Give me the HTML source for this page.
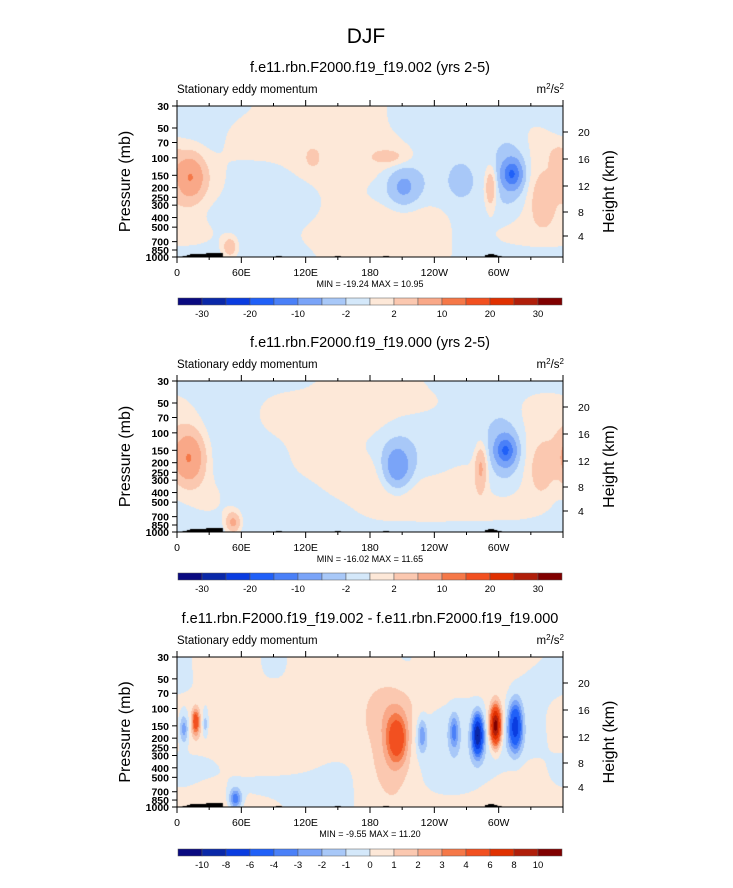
<!DOCTYPE html>
<html><head><meta charset="utf-8"><style>
body{margin:0;background:#fff;font-family:"Liberation Sans",sans-serif;}
#root{position:relative;width:733px;height:888px;overflow:hidden;}
canvas{position:absolute;}
svg{position:absolute;left:0;top:0;}
</style></head><body>
<div id="root">
<canvas id="c1" width="386" height="151" style="left:177px;top:106px"></canvas>
<canvas id="c2" width="386" height="151" style="left:177px;top:381px"></canvas>
<canvas id="c3" width="386" height="150" style="left:177px;top:657px"></canvas>
<svg id="svg" width="733" height="888"></svg>
</div>
<script>
const colors=["#0a0a80","#0a28a8","#0a3ce0","#2060f8","#4a80f8","#7aa4f8","#a8c8f8","#d4e8fa","#fde8d8","#fbc8b0","#f9a888","#f57848","#f25020","#e03000","#b01e0a","#800000"];
const levelsAB=[-30,-25,-20,-15,-10,-5,-2,0,2,5,10,15,20,25,30];
const labelsAB=["-30","","-20","","-10","","-2","","2","","10","","20","","30"];
const levelsC=[-10,-8,-6,-4,-3,-2,-1,0,1,2,3,4,6,8,10];
const labelsC=["-10","-8","-6","-4","-3","-2","-1","0","1","2","3","4","6","8","10"];
const pTicks=[30,50,70,100,150,200,250,300,400,500,700,850,1000];
const hTicks=[4,8,12,16,20];
const hOffsets=[130,106,80,53,26];
const lonTicks=[0,60,120,180,240,300];
const lonLabels=["0","60E","120E","180","120W","60W"];
const bg1=[
[-1,-1,-1, 1, 1, 1, 1,-1,-1,-1,-1,-1],
[-1,-1, 1, 1,-1, 1, 1,-1,-1,-1,-1, 1],
[ 1,-1, 1, 1, 1, 1, 1, 1,-1,-1,-1, 1],
[ 1, 1,-1,-1, 1, 1, 1,-1,-1,-1,-1, 1],
[ 1, 1,-1,-1,-1, 1,-1,-1,-1,-1,-1, 1],
[ 1,-1,-1,-1,-1, 1, 1, 1, 1,-1,-1, 1],
[ 1, 1,-1,-1, 1, 1, 1, 1, 1,-1, 1, 1],
[-1,-1,-1,-1,-1, 1, 1, 1, 1,-1,-1,-1]];
const bg2=[
[-1,-1,-1,-1,-1, 1,-1, 1,-1,-1,-1,-1],
[ 1,-1,-1, 1, 1, 1, 1, 1, 1,-1,-1, 1],
[ 1,-1,-1, 1, 1, 1, 1,-1,-1,-1,-1, 1],
[ 1,-1,-1,-1, 1, 1,-1,-1,-1,-1,-1, 1],
[ 1,-1,-1,-1, 1, 1, 1,-1,-1, 1,-1, 1],
[-1, 1,-1,-1,-1, 1, 1, 1, 1, 1,-1, 1],
[-1, 1,-1,-1,-1,-1, 1, 1, 1, 1, 1, 1],
[-1,-1,-1,-1,-1,-1,-1,-1,-1,-1,-1,-1]];
const bg3=[
[-1, 1, 1,-1, 1, 1, 1,-1, 1, 1, 1, 1],
[-1, 1, 1,-1, 1, 1, 1,-1, 1, 1, 1,-1],
[ 1,-1, 1, 1, 1, 1, 1, 1, 1,-1, 1,-1],
[ 1, 1, 1, 1,-1, 1, 1, 1,-1,-1, 1,-1],
[ 1, 1, 1, 1, 1, 1, 1,-1,-1,-1,-1,-1],
[-1,-1, 1, 1, 1,-1, 1, 1,-1,-1,-1, 1],
[-1, 1,-1,-1,-1,-1, 1, 1,-1,-1, 1, 1],
[ 1, 1, 1, 1,-1,-1, 1, 1, 1, 1, 1, 1]];
const p1Lon=[12,312,312,292,211,264,49,199,126,355,340];
const p1Z  =[0.47,0.45,0.45,0.54,0.54,0.5,0.94,0.34,0.34,0.34,0.62];
const p1Amp=[9,-12,-4,6,-5,-3.5,5,2.6,2.6,2.6,2.8];
const p1SL =[9,6,11,4,10,6,5,12,4,5,8];
const p1SZ =[0.1,0.06,0.15,0.1,0.09,0.06,0.05,0.04,0.04,0.05,0.12];
const p2Lon=[205,306,306,283,11,52,340];
const p2Z  =[0.57,0.46,0.46,0.57,0.51,0.94,0.6];
const p2Amp=[-8,-12,-4,6,10,7,2.8];
const p2SL =[9,6,11,4,10,5,8];
const p2SZ =[0.1,0.06,0.14,0.11,0.12,0.05,0.12];
const p3Lon=[280,296.6,315,258,205,200,228,17,6,54,26];
const p3Z  =[0.52,0.46,0.46,0.5,0.55,0.5,0.52,0.43,0.48,0.95,0.45];
const p3Amp=[-9.5,11,-7,-3,4.5,1.4,-2.5,5,-3,-4,-2];
const p3SL =[3.5,3.5,4.5,3,7,14,3,2.5,3,4,2];
const p3SZ =[0.09,0.09,0.11,0.08,0.11,0.25,0.08,0.06,0.07,0.05,0.06];
const topoLon=[8,12,15,20,25,30,35,40,95,150,195,290,293,296,300];
const topoH=[1,2,3,3,3,4,4,4,1,1,1,2,3,2,1];

const W=386;
function xOf(lon){return lon/360*W;}
function zOf(p){return Math.log(p/30)/Math.log(1000/30);}
function bgVal(bg,lon,z,s){
  let sw=0,sv=0;
  for(let r=0;r<8;r++){const dz=(z-r/7)*7/0.65;const ez=Math.exp(-0.5*dz*dz);
    for(let c=0;c<12;c++){let dl=lon-c*30;if(dl>180)dl-=360;if(dl<-180)dl+=360;
      const dx=dl/30/0.65;const w=ez*Math.exp(-0.5*dx*dx);sw+=w;sv+=w*bg[r][c];}}
  return s*sv/sw*1.5;
}
function field(lon,z,bg,s,L,Z,A,SL,SZ){
  let v=bgVal(bg,lon,z,s);
  for(let i=0;i<L.length;i++){
    let dl=lon-L[i]; if(dl>180)dl-=360; if(dl<-180)dl+=360;
    v+=A[i]*Math.exp(-0.5*((dl/SL[i])**2+((z-Z[i])/SZ[i])**2));
  }
  return v;
}
function cls(v,levels){let k=0;while(k<levels.length&&v>=levels[k])k++;return k;}
function draw(id,bg,s,L,Z,A,SL,SZ,levels){
  const c=document.getElementById(id),ctx=c.getContext('2d'),H=c.height;
  for(let y=0;y<H;y++)for(let x=0;x<W;x++){
    const v=field(x/W*360,y/(H-1),bg,s,L,Z,A,SL,SZ);
    ctx.fillStyle=colors[cls(v,levels)];ctx.fillRect(x,y,1,1);
  }
  ctx.fillStyle="#000";
  for(let i=0;i<topoLon.length;i++){ctx.fillRect(xOf(topoLon[i])-3,H-topoH[i],6,topoH[i]);}
}
draw('c1',bg1,1,p1Lon,p1Z,p1Amp,p1SL,p1SZ,levelsAB);
draw('c2',bg2,1,p2Lon,p2Z,p2Amp,p2SL,p2SZ,levelsAB);
draw('c3',bg3,0.5,p3Lon,p3Z,p3Amp,p3SL,p3SZ,levelsC);

const svg=document.getElementById('svg');const NS="http://www.w3.org/2000/svg";
function mk(tag,at,txt){const e=document.createElementNS(NS,tag);for(const k in at)e.setAttribute(k,at[k]);if(txt!==undefined)e.textContent=txt;svg.appendChild(e);return e;}
let t=mk('text',{x:366,y:43,'font-size':21,'text-anchor':'middle'},'DJF');


const panels=[
 {top:106,h:151,title:"f.e11.rbn.F2000.f19_f19.002 (yrs 2-5)",mm:"MIN = -19.24  MAX =  10.95",cb:298,lv:labelsAB},
 {top:381,h:151,title:"f.e11.rbn.F2000.f19_f19.000 (yrs 2-5)",mm:"MIN = -16.02  MAX =  11.65",cb:573,lv:labelsAB},
 {top:657,h:150,title:"f.e11.rbn.F2000.f19_f19.002 - f.e11.rbn.F2000.f19_f19.000",mm:"MIN =  -9.55  MAX =  11.20",cb:849,lv:labelsC}];
panels.forEach((P,pi)=>{
  const L=177,R=563,T=P.top,B=P.top+P.h;
  let e=mk('text',{x:370,y:T-34,'font-size':14.5,'text-anchor':'middle'},P.title);
  
  
  e=mk('text',{x:177,y:T-13,'font-size':11.5},'Stationary eddy momentum');
  
  
  e=mk('text',{x:564,y:T-13,'font-size':11.5,'text-anchor':'end'});
  e.innerHTML='m<tspan dy="-4" font-size="8">2</tspan><tspan dy="4">/s</tspan><tspan dy="-4" font-size="8">2</tspan>';
  
  
  e=mk('rect',{x:L,y:T,width:R-L,height:P.h,fill:'none',stroke:'#000','stroke-width':1});
  
  
  pTicks.forEach(p=>{const y=T+zOf(p)*P.h;
    mk('line',{x1:L-5,x2:L,y1:y,y2:y,stroke:'#000'});
    const tx=mk('text',{x:L-8,y:y+4,'font-size':10.5,'text-anchor':'end','font-weight':'bold'},String(p));
    
    });
  hTicks.forEach((h,i)=>{const y=T+hOffsets[i];
    mk('line',{x1:R,x2:R+5,y1:y,y2:y,stroke:'#000'});
    const tx=mk('text',{x:R+15,y:y+4,'font-size':10.5},String(h));
    
    });
  for(let lon=0;lon<=360;lon+=30){const x=L+xOf(lon),len=lon%60?3:6;
    mk('line',{x1:x,x2:x,y1:B,y2:B+len,stroke:'#000'});
    mk('line',{x1:x,x2:x,y1:T,y2:T-len,stroke:'#000'});}
  lonTicks.forEach((lon,i)=>{const tx=mk('text',{x:L+xOf(lon),y:B+19,'font-size':10.5,'text-anchor':'middle'},lonLabels[i]);
    
    });
  e=mk('text',{x:370,y:B+30,'font-size':9,'text-anchor':'middle'},P.mm);
  
  
  e=mk('text',{x:0,y:0,'font-size':16,'text-anchor':'middle',transform:`translate(130,${T+P.h/2}) rotate(-90)`},'Pressure (mb)');
  
  
  e=mk('text',{x:0,y:0,'font-size':16,'text-anchor':'middle',transform:`translate(614,${T+P.h/2+10}) rotate(-90)`},'Height (km)');
  
  
  colors.forEach((c,i)=>{const r=mk('rect',{x:178+i*24,y:P.cb,width:24,height:7,fill:c,stroke:'#555','stroke-width':0.5});
    
    });
  P.lv.forEach((s,i)=>{if(!s)return;const tx=mk('text',{x:178+(i+1)*24,y:P.cb+19,'font-size':9.5,'text-anchor':'middle'},s);
    
    });
});
</script>
</body></html>
